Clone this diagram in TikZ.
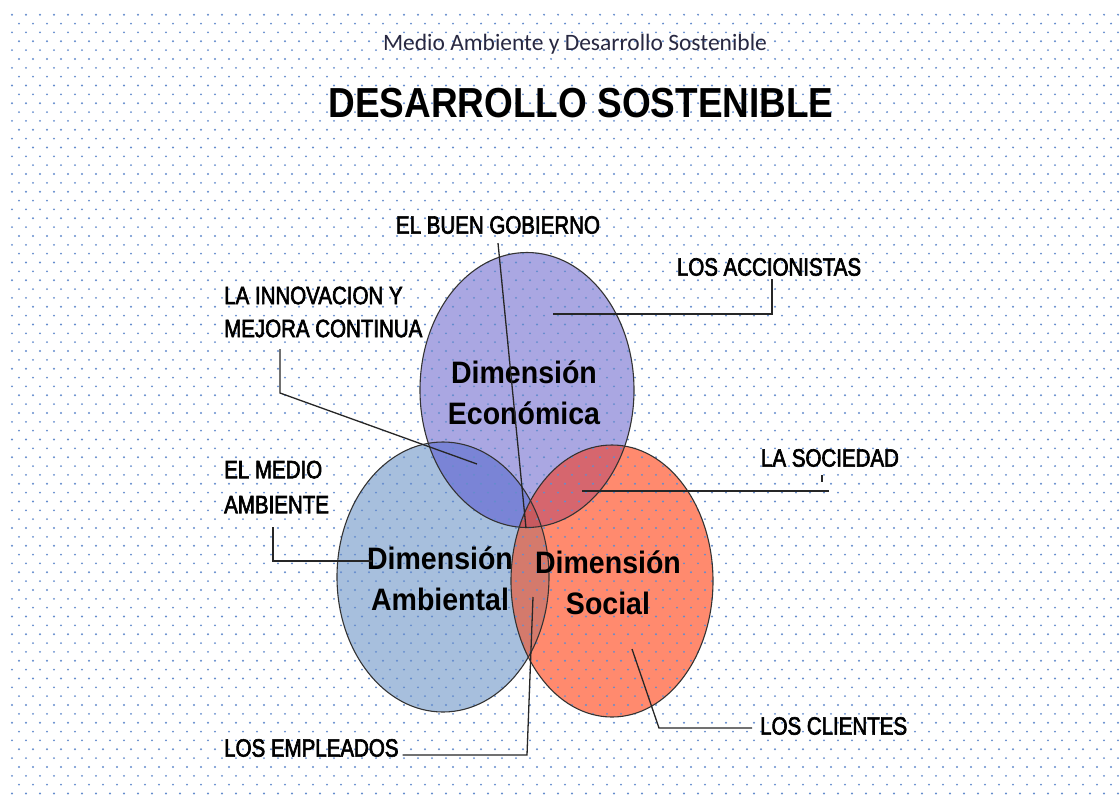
\documentclass[tikz,border=0pt]{standalone}
\usepackage{fontspec}
\setmainfont{Liberation Sans}
\newfontfamily\labelfont{Liberation Sans}[FakeStretch=0.82, FakeBold=2.5]
\newfontfamily\dimfont{Liberation Sans}[FakeStretch=0.92]
\newfontfamily\titlefont{Liberation Sans}[FakeStretch=0.88]
\newfontfamily\subfont{Carlito}
\usetikzlibrary{positioning,shapes.geometric}

\definecolor{dotc}{RGB}{100,140,205}
\definecolor{econ}{RGB}{170,167,226}
\definecolor{ambi}{RGB}{167,191,221}
\definecolor{soci}{RGB}{255,138,110}
\definecolor{ecoamb}{RGB}{122,132,214}
\definecolor{ecosoc}{RGB}{214,102,110}
\definecolor{ambsoc}{RGB}{212,122,108}
\definecolor{allthree}{RGB}{200,90,95}
\definecolor{subc}{RGB}{40,40,65}

% ellipse paths of the three dimensions
\newcommand\ambPath{(443,577) ellipse [x radius=106, y radius=135]}
\newcommand\ecoPath{(527,390) ellipse [x radius=107, y radius=137.5]}
\newcommand\socPath{(612,581) ellipse [x radius=101, y radius=136]}

\begin{document}
\begin{tikzpicture}[
  x=1pt, y=-1pt,
  rim/.style={draw=black!80, line width=1.1pt},
  dimtext/.style={font=\dimfont\bfseries\fontsize{31}{41}\selectfont, align=center},
  lbl/.style={font=\labelfont\fontsize{25}{33}\selectfont, inner sep=0pt, align=left},
  conn/.style={line width=1.3pt, black!85}
]
\useasboundingbox (0,0) rectangle (1120,796);
\fill[white] (0,0) rectangle (1120,796);

% === Dimensions (fills) ===
\fill[ambi] \ambPath;
\fill[econ] \ecoPath;
\fill[soci] \socPath;
% overlaps
\begin{scope}
  \clip \ecoPath;
  \fill[ecoamb] \ambPath;
  \fill[ecosoc] \socPath;
\end{scope}
\begin{scope}
  \clip \ambPath;
  \fill[ambsoc] \socPath;
  \clip \socPath;
  \fill[allthree] \ecoPath;
\end{scope}

% === Dotted paper ===
\foreach \r in {0,...,88}{
  \pgfmathsetmacro\dx{mod(\r,2)*7}
  \foreach \c in {0,...,79}
    \fill[dotc] (12+\dx+14*\c, 14.7+8.85*\r) circle (1.05);
}

% === Dimensions (rims) ===
\draw[rim] \ambPath;
\draw[rim] \ecoPath;
\draw[rim] \socPath;

% === Titles ===
\node[font=\subfont\fontsize{23.5}{28}\selectfont, text=subc] (sub) at (575,44)
  {Medio Ambiente y Desarrollo Sostenible};
\node[font=\titlefont\bfseries\fontsize{42}{48}\selectfont] (title) at (581,103)
  {DESARROLLO SOSTENIBLE};

% === Dimension names ===
\node[dimtext] (ecoT) at (524,393) {Dimensión\\Económica};
\node[dimtext] (ambT) at (440,579) {Dimensión\\Ambiental};
\node[dimtext] (socT) at (608,583) {Dimensión\\Social};

% === Labels ===
\node[lbl] (gob) at (498,225) {EL BUEN GOBIERNO};
\node[lbl] (acc) at (769,267) {LOS ACCIONISTAS};
\node[lbl, anchor=west] (innov) at (224,312) {LA INNOVACION Y\\MEJORA CONTINUA};
\node[lbl, anchor=west, font=\labelfont\fontsize{25}{35}\selectfont] (medio) at (224,487) {EL MEDIO\\AMBIENTE};
\node[lbl] (socie) at (830,458) {LA SOCIEDAD};
\node[lbl, anchor=west] (emp) at (224,748) {LOS EMPLEADOS};
\node[lbl, anchor=west] (cli) at (760,726) {LOS CLIENTES};

% === Connector points ===
\coordinate (gobEnd) at (526,528);
\coordinate (accEnd) at (553,314);
\coordinate (innovA) at (280,349);
\coordinate (innovB) at (280,393);
\coordinate (innovEnd) at (477,464);
\coordinate (medioA) at (273,527);
\coordinate (medioEnd) at (372,561);
\coordinate (socieA) at (829,491);
\coordinate (socieEnd) at (582,491);
\coordinate (empB) at (527,755);
\coordinate (empEnd) at (533,597);
\coordinate (cliA) at (752,728);
\coordinate (cliB) at (659,728);
\coordinate (cliEnd) at (632,649);

% === Connectors ===
\draw[conn] ([yshift=-9pt]gob.south) -- (gobEnd);
\draw[conn] ([xshift=3pt,yshift=-3pt]acc.south) |- (accEnd);
\draw[conn] (innovA) -- (innovB) -- (innovEnd);
\draw[conn] (medioA) |- (medioEnd);
\draw[conn] ([xshift=-8pt,yshift=-8pt]socie.south) -- ++(0,7);
\draw[conn] (socieA) -- (socieEnd);
\draw[conn] ([xshift=4pt]emp.east |- empB) -- (empB) -- (empEnd);
\draw[conn] (cliA) -- (cliB) -- (cliEnd);

\end{tikzpicture}
\end{document}
